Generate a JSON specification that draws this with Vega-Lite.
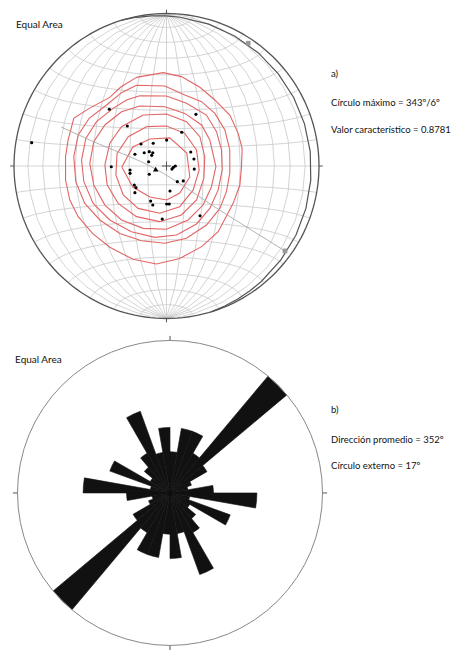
{
  "$schema": "https://vega.github.io/schema/vega-lite/v6.json",
  "width": 456,
  "height": 662,
  "autosize": {"type": "fit", "contains": "padding"},
  "padding": 0,
  "background": "white",
  "config": {"view": {"stroke": null}},
  "layer": [
    {
      "data": {"graticule": {"step": [10, 10], "extent": [[-180, -90], [180, 90]]}},
      "projection": {"type": "azimuthalEqualArea", "scale": 107.83, "translate": [166.5, 166], "clipAngle": 90},
      "mark": {"type": "geoshape", "filled": false, "stroke": "#c8c8c8", "strokeWidth": 0.8},
      "encoding": {}
    },
    {
      "data": {"values": [
        {"c":1,"i":0,"u":-0.197,"v":0.581},{"c":1,"i":1,"u":-0.022,"v":0.612},{"c":1,"i":2,"u":0.098,"v":0.586},{"c":1,"i":3,"u":0.219,"v":0.516},{"c":1,"i":4,"u":0.317,"v":0.433},{"c":1,"i":5,"u":0.415,"v":0.334},{"c":1,"i":6,"u":0.470,"v":0.214},{"c":1,"i":7,"u":0.496,"v":0.116},{"c":1,"i":8,"u":0.492,"v":-0.004},{"c":1,"i":9,"u":0.481,"v":-0.125},{"c":1,"i":10,"u":0.437,"v":-0.245},{"c":1,"i":11,"u":0.339,"v":-0.431},{"c":1,"i":12,"u":0.230,"v":-0.529},{"c":1,"i":13,"u":0.087,"v":-0.606},{"c":1,"i":14,"u":-0.066,"v":-0.643},{"c":1,"i":15,"u":-0.219,"v":-0.612},{"c":1,"i":16,"u":-0.372,"v":-0.533},{"c":1,"i":17,"u":-0.485,"v":-0.442},{"c":1,"i":18,"u":-0.579,"v":-0.332},{"c":1,"i":19,"u":-0.634,"v":-0.223},{"c":1,"i":20,"u":-0.662,"v":-0.092},{"c":1,"i":21,"u":-0.662,"v":0.061},{"c":1,"i":22,"u":-0.645,"v":0.171},{"c":1,"i":23,"u":-0.608,"v":0.313},{"c":1,"i":24,"u":-0.507,"v":0.378},{"c":1,"i":25,"u":-0.372,"v":0.450},{"c":1,"i":26,"u":-0.302,"v":0.516},{"c":1,"i":27,"u":-0.197,"v":0.581},
        {"c":2,"i":0,"u":-0.197,"v":0.529},{"c":2,"i":1,"u":-0.011,"v":0.525},{"c":2,"i":2,"u":0.120,"v":0.466},{"c":2,"i":3,"u":0.230,"v":0.422},{"c":2,"i":4,"u":0.317,"v":0.345},{"c":2,"i":5,"u":0.383,"v":0.236},{"c":2,"i":6,"u":0.415,"v":0.105},{"c":2,"i":7,"u":0.415,"v":-0.048},{"c":2,"i":8,"u":0.393,"v":-0.168},{"c":2,"i":9,"u":0.350,"v":-0.278},{"c":2,"i":10,"u":0.262,"v":-0.387},{"c":2,"i":11,"u":0.131,"v":-0.474},{"c":2,"i":12,"u":-0.011,"v":-0.507},{"c":2,"i":13,"u":-0.164,"v":-0.490},{"c":2,"i":14,"u":-0.306,"v":-0.442},{"c":2,"i":15,"u":-0.437,"v":-0.354},{"c":2,"i":16,"u":-0.536,"v":-0.245},{"c":2,"i":17,"u":-0.595,"v":-0.103},{"c":2,"i":18,"u":-0.608,"v":0.061},{"c":2,"i":19,"u":-0.579,"v":0.203},{"c":2,"i":20,"u":-0.507,"v":0.313},{"c":2,"i":21,"u":-0.393,"v":0.400},{"c":2,"i":22,"u":-0.295,"v":0.481},{"c":2,"i":23,"u":-0.197,"v":0.529},
        {"c":3,"i":0,"u":-0.175,"v":0.461},{"c":3,"i":1,"u":0.0,"v":0.459},{"c":3,"i":2,"u":0.131,"v":0.411},{"c":3,"i":3,"u":0.262,"v":0.334},{"c":3,"i":4,"u":0.328,"v":0.225},{"c":3,"i":5,"u":0.361,"v":0.105},{"c":3,"i":6,"u":0.365,"v":-0.026},{"c":3,"i":7,"u":0.339,"v":-0.157},{"c":3,"i":8,"u":0.284,"v":-0.278},{"c":3,"i":9,"u":0.197,"v":-0.380},{"c":3,"i":10,"u":0.066,"v":-0.453},{"c":3,"i":11,"u":-0.077,"v":-0.468},{"c":3,"i":12,"u":-0.230,"v":-0.431},{"c":3,"i":13,"u":-0.372,"v":-0.354},{"c":3,"i":14,"u":-0.481,"v":-0.245},{"c":3,"i":15,"u":-0.542,"v":-0.103},{"c":3,"i":16,"u":-0.557,"v":0.039},{"c":3,"i":17,"u":-0.529,"v":0.181},{"c":3,"i":18,"u":-0.459,"v":0.291},{"c":3,"i":19,"u":-0.350,"v":0.378},{"c":3,"i":20,"u":-0.262,"v":0.433},{"c":3,"i":21,"u":-0.175,"v":0.461},
        {"c":4,"i":0,"u":-0.175,"v":0.393},{"c":4,"i":1,"u":-0.011,"v":0.389},{"c":4,"i":2,"u":0.120,"v":0.345},{"c":4,"i":3,"u":0.230,"v":0.269},{"c":4,"i":4,"u":0.284,"v":0.171},{"c":4,"i":5,"u":0.324,"v":-0.004},{"c":4,"i":6,"u":0.295,"v":-0.136},{"c":4,"i":7,"u":0.240,"v":-0.256},{"c":4,"i":8,"u":0.142,"v":-0.354},{"c":4,"i":9,"u":0.0,"v":-0.415},{"c":4,"i":10,"u":-0.153,"v":-0.409},{"c":4,"i":11,"u":-0.295,"v":-0.354},{"c":4,"i":12,"u":-0.404,"v":-0.256},{"c":4,"i":13,"u":-0.477,"v":-0.125},{"c":4,"i":14,"u":-0.503,"v":0.017},{"c":4,"i":15,"u":-0.477,"v":0.160},{"c":4,"i":16,"u":-0.404,"v":0.269},{"c":4,"i":17,"u":-0.295,"v":0.356},{"c":4,"i":18,"u":-0.175,"v":0.393},
        {"c":5,"i":0,"u":-0.153,"v":0.334},{"c":5,"i":1,"u":0.0,"v":0.341},{"c":5,"i":2,"u":0.131,"v":0.291},{"c":5,"i":3,"u":0.219,"v":0.192},{"c":5,"i":4,"u":0.251,"v":0.061},{"c":5,"i":5,"u":0.245,"v":-0.081},{"c":5,"i":6,"u":0.197,"v":-0.223},{"c":5,"i":7,"u":0.098,"v":-0.321},{"c":5,"i":8,"u":-0.044,"v":-0.365},{"c":5,"i":9,"u":-0.197,"v":-0.332},{"c":5,"i":10,"u":-0.317,"v":-0.245},{"c":5,"i":11,"u":-0.389,"v":-0.125},{"c":5,"i":12,"u":-0.404,"v":0.007},{"c":5,"i":13,"u":-0.372,"v":0.149},{"c":5,"i":14,"u":-0.295,"v":0.258},{"c":5,"i":15,"u":-0.153,"v":0.334},
        {"c":6,"i":0,"u":-0.131,"v":0.258},{"c":6,"i":1,"u":0.0,"v":0.262},{"c":6,"i":2,"u":0.120,"v":0.214},{"c":6,"i":3,"u":0.197,"v":0.105},{"c":6,"i":4,"u":0.214,"v":-0.026},{"c":6,"i":5,"u":0.175,"v":-0.157},{"c":6,"i":6,"u":0.087,"v":-0.267},{"c":6,"i":7,"u":-0.044,"v":-0.310},{"c":6,"i":8,"u":-0.186,"v":-0.278},{"c":6,"i":9,"u":-0.284,"v":-0.190},{"c":6,"i":10,"u":-0.332,"v":-0.059},{"c":6,"i":11,"u":-0.324,"v":0.083},{"c":6,"i":12,"u":-0.251,"v":0.192},{"c":6,"i":13,"u":-0.131,"v":0.258},
        {"c":7,"i":0,"u":-0.293,"v":-0.007},{"c":7,"i":1,"u":-0.221,"v":0.125},{"c":7,"i":2,"u":-0.109,"v":0.177},{"c":7,"i":3,"u":0.022,"v":0.184},{"c":7,"i":4,"u":0.133,"v":0.085},{"c":7,"i":5,"u":0.153,"v":-0.072},{"c":7,"i":6,"u":0.087,"v":-0.177},{"c":7,"i":7,"u":0.002,"v":-0.223},{"c":7,"i":8,"u":-0.109,"v":-0.203},{"c":7,"i":9,"u":-0.221,"v":-0.138},{"c":7,"i":10,"u":-0.293,"v":-0.007}
      ]},
      "mark": {"type": "line", "stroke": "#e36464", "strokeWidth": 1.1},
      "encoding": {
        "x": {"field": "u", "type": "quantitative", "scale": {"domain": [-1.0918, 1.8984], "nice": false, "zero": false}, "axis": null},
        "y": {"field": "v", "type": "quantitative", "scale": {"domain": [-3.2525, 1.0885], "nice": false, "zero": false}, "axis": null},
        "detail": {"field": "c", "type": "nominal"},
        "order": {"field": "i", "type": "quantitative"}
      }
    },
    {
      "data": {"values": [
        {"i":0,"u":0.777,"v":-0.557},{"i":1,"u":0.35,"v":-0.29},{"i":2,"u":-0.071,"v":-0.020},{"i":3,"u":-0.502,"v":0.170},{"i":4,"u":-0.69,"v":0.255}
      ]},
      "mark": {"type": "line", "stroke": "#aaaaaa", "strokeWidth": 0.9, "interpolate": "monotone"},
      "encoding": {
        "x": {"field": "u", "type": "quantitative", "axis": null},
        "y": {"field": "v", "type": "quantitative", "axis": null},
        "order": {"field": "i", "type": "quantitative"}
      }
    },
    {
      "data": {"values": [
        {"type": "Feature", "properties": {}, "geometry": {"type": "LineString", "coordinates": [[-90, 73], [80.98, 61.88], [83.73, 16.9], [85.2, -28.07], [90, -73]]}}
      ]},
      "projection": {"type": "azimuthalEqualArea", "scale": 107.83, "translate": [166.5, 166], "clipAngle": 90},
      "mark": {"type": "geoshape", "filled": false, "stroke": "#555555", "strokeWidth": 1.2},
      "encoding": {}
    },
    {
      "data": {"sphere": true},
      "projection": {"type": "azimuthalEqualArea", "scale": 107.83, "translate": [166.5, 166], "clipAngle": 90},
      "mark": {"type": "geoshape", "filled": false, "stroke": "#555555", "strokeWidth": 1.3},
      "encoding": {}
    },
    {
      "data": {"values": [
        {"u":0,"v":1.0,"u2":0,"v2":1.025},
        {"u":0,"v":-1.0,"u2":0,"v2":-1.025},
        {"u":-1.0,"v":0,"u2":-1.025,"v2":0},
        {"u":1.0,"v":0,"u2":1.025,"v2":0},
        {"u":-0.03,"v":0,"u2":0.03,"v2":0},
        {"u":0,"v":-0.03,"u2":0,"v2":0.03},
        {"u":0.023,"v":-1.144,"u2":0.023,"v2":-1.114},
        {"u":0.023,"v":-3.144,"u2":0.023,"v2":-3.174},
        {"u":-0.977,"v":-2.144,"u2":-1.007,"v2":-2.144},
        {"u":1.023,"v":-2.144,"u2":1.053,"v2":-2.144}
      ]},
      "mark": {"type": "rule", "stroke": "#555555", "strokeWidth": 1},
      "encoding": {
        "x": {"field": "u", "type": "quantitative", "axis": null},
        "y": {"field": "v", "type": "quantitative", "axis": null},
        "x2": {"field": "u2"},
        "y2": {"field": "v2"}
      }
    },
    {
      "data": {"values": [
        {"u":-0.375,"v":0.372},{"u":0.193,"v":0.339},{"u":-0.257,"v":0.262},{"u":0.100,"v":0.221},{"u":0.001,"v":0.170},{"u":-0.167,"v":0.144},{"u":-0.087,"v":0.149},{"u":-0.207,"v":0.077},{"u":-0.146,"v":0.087},{"u":-0.113,"v":0.094},{"u":-0.090,"v":0.087},{"u":-0.097,"v":0.070},{"u":0.159,"v":0.092},{"u":0.180,"v":0.046},{"u":-0.117,"v":0.028},{"u":-0.362,"v":-0.005},{"u":0.036,"v":-0.020},{"u":0.045,"v":-0.009},{"u":0.058,"v":0.0},{"u":0.182,"v":-0.020},{"u":-0.239,"v":-0.026},{"u":-0.239,"v":-0.048},{"u":-0.113,"v":-0.054},{"u":0.071,"v":-0.103},{"u":0.110,"v":-0.098},{"u":-0.211,"v":-0.125},{"u":-0.200,"v":-0.142},{"u":-0.207,"v":-0.175},{"u":0.023,"v":-0.164},{"u":-0.104,"v":-0.230},{"u":-0.090,"v":-0.256},{"u":0.001,"v":-0.249},{"u":0.018,"v":-0.249},{"u":-0.028,"v":-0.348},{"u":0.220,"v":-0.326},{"u":-0.884,"v":0.153}
      ]},
      "mark": {"type": "point", "shape": "circle", "filled": true, "color": "#000000", "size": 10, "opacity": 1},
      "encoding": {
        "x": {"field": "u", "type": "quantitative", "axis": null},
        "y": {"field": "v", "type": "quantitative", "axis": null}
      }
    },
    {
      "data": {"values": [{"u":-0.071,"v":-0.020}]},
      "mark": {"type": "point", "shape": "triangle-up", "filled": true, "color": "#000000", "size": 30, "opacity": 1},
      "encoding": {
        "x": {"field": "u", "type": "quantitative", "axis": null},
        "y": {"field": "v", "type": "quantitative", "axis": null}
      }
    },
    {
      "data": {"values": [{"u":0.536,"v":0.805},{"u":0.777,"v":-0.557}]},
      "mark": {"type": "point", "shape": "square", "filled": true, "color": "#999999", "size": 22, "opacity": 1},
      "encoding": {
        "x": {"field": "u", "type": "quantitative", "axis": null},
        "y": {"field": "v", "type": "quantitative", "axis": null}
      }
    },
    {
      "data": {"values": [
        {"a0":0,"a1":10,"pct":1.24},{"a0":10,"a1":20,"pct":3.14},{"a0":20,"a1":30,"pct":3.14},{"a0":30,"a1":40,"pct":1.53},{"a0":40,"a1":50,"pct":17},{"a0":50,"a1":60,"pct":1.33},{"a0":60,"a1":70,"pct":0.38},{"a0":70,"a1":80,"pct":0.24},{"a0":80,"a1":90,"pct":1.38},{"a0":90,"a1":100,"pct":5.52},{"a0":100,"a1":110,"pct":0.29},{"a0":110,"a1":120,"pct":3.0},{"a0":120,"a1":130,"pct":0.38},{"a0":130,"a1":140,"pct":0.82},{"a0":140,"a1":150,"pct":1.53},{"a0":150,"a1":160,"pct":5.52},{"a0":160,"a1":170,"pct":1.24},{"a0":170,"a1":180,"pct":3.14},
        {"a0":180,"a1":190,"pct":1.24},{"a0":190,"a1":200,"pct":3.14},{"a0":200,"a1":210,"pct":3.14},{"a0":210,"a1":220,"pct":1.53},{"a0":220,"a1":230,"pct":17},{"a0":230,"a1":240,"pct":1.33},{"a0":240,"a1":250,"pct":0.38},{"a0":250,"a1":260,"pct":0.24},{"a0":260,"a1":270,"pct":1.38},{"a0":270,"a1":280,"pct":5.52},{"a0":280,"a1":290,"pct":0.29},{"a0":290,"a1":300,"pct":3.0},{"a0":300,"a1":310,"pct":0.38},{"a0":310,"a1":320,"pct":0.82},{"a0":320,"a1":330,"pct":1.53},{"a0":330,"a1":340,"pct":5.52},{"a0":340,"a1":350,"pct":1.24},{"a0":350,"a1":360,"pct":3.14}
      ]},
      "mark": {"type": "arc", "fill": "#111111", "stroke": "#111111", "strokeWidth": 0.6},
      "encoding": {
        "x": {"datum": 0.023, "type": "quantitative", "axis": null},
        "y": {"datum": -2.144, "type": "quantitative", "axis": null},
        "theta": {"field": "a0", "type": "quantitative", "scale": {"domain": [0, 360], "range": [0, 6.28318531]}, "stack": null},
        "theta2": {"field": "a1"},
        "radius": {"field": "pct", "type": "quantitative", "scale": {"type": "sqrt", "domain": [0, 17], "range": [0, 152.5]}}
      }
    },
    {
      "data": {"values": [{"a0": 0, "a1": 360, "pct": 17}]},
      "mark": {"type": "arc", "filled": false, "stroke": "#888888", "strokeWidth": 1},
      "encoding": {
        "x": {"datum": 0.023, "type": "quantitative", "axis": null},
        "y": {"datum": -2.144, "type": "quantitative", "axis": null},
        "theta": {"field": "a0", "type": "quantitative", "stack": null},
        "theta2": {"field": "a1"},
        "radius": {"field": "pct", "type": "quantitative"}
      }
    },
    {
      "data": {"values": [
        {"t":"a)","u":1.079,"v":0.584},
        {"t":"Círculo máximo = 343º/6º","u":1.079,"v":0.393},
        {"t":"Valor característico = 0.8781","u":1.079,"v":0.216},
        {"t":"b)","u":1.079,"v":-1.620},
        {"t":"Dirección promedio = 352º","u":1.079,"v":-1.816},
        {"t":"Círculo externo = 17º","u":1.079,"v":-1.987}
      ]},
      "mark": {"type": "text", "font": "Lato", "fontSize": 9.5, "color": "#111111", "align": "left", "baseline": "alphabetic"},
      "encoding": {
        "x": {"field": "u", "type": "quantitative", "axis": null},
        "y": {"field": "v", "type": "quantitative", "axis": null},
        "text": {"field": "t"}
      }
    },
    {
      "data": {"values": [
        {"t":"Equal Area","u":-0.987,"v":0.905},
        {"t":"Equal Area","u":-0.993,"v":-1.292}
      ]},
      "mark": {"type": "text", "font": "Lato", "fontSize": 10, "color": "#111111", "align": "left", "baseline": "alphabetic"},
      "encoding": {
        "x": {"field": "u", "type": "quantitative", "axis": null},
        "y": {"field": "v", "type": "quantitative", "axis": null},
        "text": {"field": "t"}
      }
    }
  ]
}
